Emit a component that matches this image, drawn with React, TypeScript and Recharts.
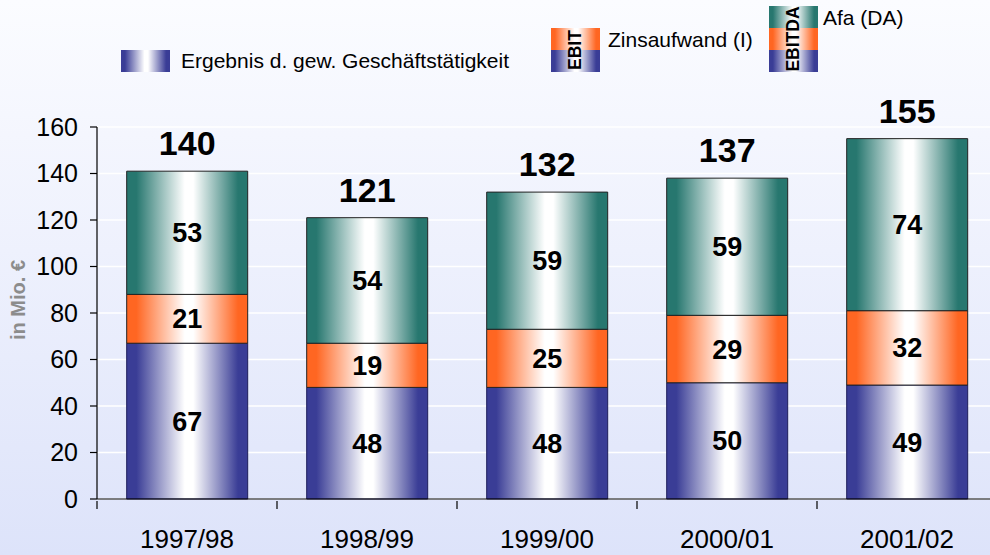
import { BarChart, Bar, XAxis, YAxis, CartesianGrid, LabelList, Label } from 'recharts';

const categories = ['1997/98', '1998/99', '1999/00', '2000/01', '2001/02'];
const ergebnis = [67, 48, 48, 50, 49];
const zinsaufwand = [21, 19, 25, 29, 32];
const afa = [53, 54, 59, 59, 74];
const totals = [140, 121, 132, 137, 155];
const yTicks = [0, 20, 40, 60, 80, 100, 120, 140, 160];

const data = categories.map((c, i) => ({
  name: c,
  ergebnis: ergebnis[i],
  zins: zinsaufwand[i],
  afa: afa[i],
  total: totals[i],
}));

const CHART_W = 997;
const CHART_H = 555;
const YAXIS_W = 97;
const BAND = (CHART_W - YAXIS_W) / categories.length;
const FONT = '"Liberation Sans", Arial, sans-serif';

const BLUE = '#3a3d96';
const ORANGE = '#ff6622';
const TEAL = '#27776f';

const grad = (c: string) =>
  `linear-gradient(to right, ${c} 0%, ${c} 8%, #ffffff 48%, #ffffff 55%, ${c} 92%, ${c} 100%)`;

function XTick(props: any) {
  const { x, y, payload, index } = props;
  const last = index === categories.length - 1;
  return (
    <g>
      <line x1={x - BAND / 2} x2={x - BAND / 2} y1={y} y2={y + 8} stroke="#000" strokeWidth={1.2} />
      {last && <line x1={x + BAND / 2} x2={x + BAND / 2} y1={y} y2={y + 8} stroke="#000" strokeWidth={1.2} />}
      <text x={x} y={y + 47} textAnchor="middle" fontSize={26} fontFamily={FONT} fill="#000">
        {payload.value}
      </text>
    </g>
  );
}

function TotalLabel(props: any) {
  const { x, y, width, index } = props;
  return (
    <text x={x + width / 2} y={y - 16} textAnchor="middle" fontSize={34} fontWeight="bold" fontFamily={FONT} fill="#000">
      {totals[index]}
    </text>
  );
}

function Swatch({ colors, text }: { colors: string[]; text?: string }) {
  return (
    <div style={{ position: 'relative', width: 49, flexShrink: 0 }}>
      {colors.map((c, i) => (
        <div key={i} style={{ height: 22, background: grad(c) }} />
      ))}
      {text && (
        <div
          style={{
            position: 'absolute',
            left: '50%',
            top: '50%',
            transform: 'translate(-50%, -50%) rotate(-90deg)',
            fontWeight: 'bold',
            fontSize: 17.5,
            lineHeight: 1,
            fontFamily: FONT,
            color: '#000',
            whiteSpace: 'nowrap',
          }}
        >
          {text}
        </div>
      )}
    </div>
  );
}

const legendText = { fontSize: 21, lineHeight: '22px', whiteSpace: 'nowrap' as const };

export default function App() {
  return (
    <div
      style={{
        position: 'absolute',
        left: 0,
        top: 0,
        width: 990,
        height: 555,
        overflow: 'hidden',
        background: 'linear-gradient(to bottom, #fbfcff 0%, #eef1fd 45%, #dde3fa 100%)',
        fontFamily: FONT,
      }}
    >
      <div style={{ position: 'absolute', left: 121, top: 50, display: 'flex', alignItems: 'center' }}>
        <Swatch colors={[BLUE]} />
        <span style={{ marginLeft: 11, ...legendText }}>Ergebnis d. gew. Geschäftstätigkeit</span>
      </div>
      <div style={{ position: 'absolute', left: 551, top: 28, display: 'flex', alignItems: 'flex-start' }}>
        <Swatch colors={[ORANGE, BLUE]} text="EBIT" />
        <span style={{ marginLeft: 8, marginTop: 1, ...legendText }}>Zinsaufwand (I)</span>
      </div>
      <div style={{ position: 'absolute', left: 769, top: 6, display: 'flex', alignItems: 'flex-start' }}>
        <Swatch colors={[TEAL, ORANGE, BLUE]} text="EBITDA" />
        <span style={{ marginLeft: 5, marginTop: 1, ...legendText }}>Afa (DA)</span>
      </div>
      <BarChart
        width={CHART_W}
        height={CHART_H}
        data={data}
        margin={{ top: 127, right: 0, bottom: 0, left: 0 }}
        barCategoryGap="16.5%"
        style={{ position: 'absolute', left: 0, top: 0 }}
      >
        <defs>
          {[['gBlue', BLUE], ['gOrange', ORANGE], ['gTeal', TEAL]].map(([id, c]) => (
            <linearGradient key={id} id={id} x1="0" y1="0" x2="1" y2="0">
              <stop offset="0%" stopColor={c} />
              <stop offset="8%" stopColor={c} />
              <stop offset="48%" stopColor="#ffffff" />
              <stop offset="55%" stopColor="#ffffff" />
              <stop offset="92%" stopColor={c} />
              <stop offset="100%" stopColor={c} />
            </linearGradient>
          ))}
        </defs>
        <CartesianGrid vertical={false} stroke="#ffffff" strokeWidth={1.5} />
        <XAxis
          dataKey="name"
          height={56}
          tickLine={false}
          tickSize={0}
          axisLine={{ stroke: '#000', strokeWidth: 1.2 }}
          tick={<XTick />}
          interval={0}
        />
        <YAxis
          width={YAXIS_W}
          domain={[0, 160]}
          ticks={yTicks}
          tickSize={7}
          tickMargin={12}
          axisLine={{ stroke: '#000', strokeWidth: 1.2 }}
          tickLine={{ stroke: '#000', strokeWidth: 1.2 }}
          tick={{ fontSize: 25, fill: '#000', fontFamily: FONT }}
        >
          <Label
            content={() => (
              <text
                transform="translate(25,300) rotate(-90)"
                textAnchor="middle"
                fontSize={20}
                fontWeight="bold"
                fill="#8c8c8c"
                fontFamily={FONT}
              >
                in Mio. €
              </text>
            )}
          />
        </YAxis>
        <Bar dataKey="ergebnis" stackId="a" fill="url(#gBlue)" stroke="#1e1e5a" strokeWidth={1} isAnimationActive={false}>
          <LabelList dataKey="ergebnis" position="center" fontSize={27} fontWeight="bold" fill="#000" fontFamily={FONT} />
        </Bar>
        <Bar dataKey="zins" stackId="a" fill="url(#gOrange)" stroke="#222" strokeWidth={1} isAnimationActive={false}>
          <LabelList dataKey="zins" position="center" fontSize={27} fontWeight="bold" fill="#000" fontFamily={FONT} />
        </Bar>
        <Bar dataKey="afa" stackId="a" fill="url(#gTeal)" stroke="#222" strokeWidth={1} isAnimationActive={false}>
          <LabelList dataKey="afa" position="center" fontSize={27} fontWeight="bold" fill="#000" fontFamily={FONT} />
          <LabelList dataKey="total" content={<TotalLabel />} />
        </Bar>
      </BarChart>
    </div>
  );
}
